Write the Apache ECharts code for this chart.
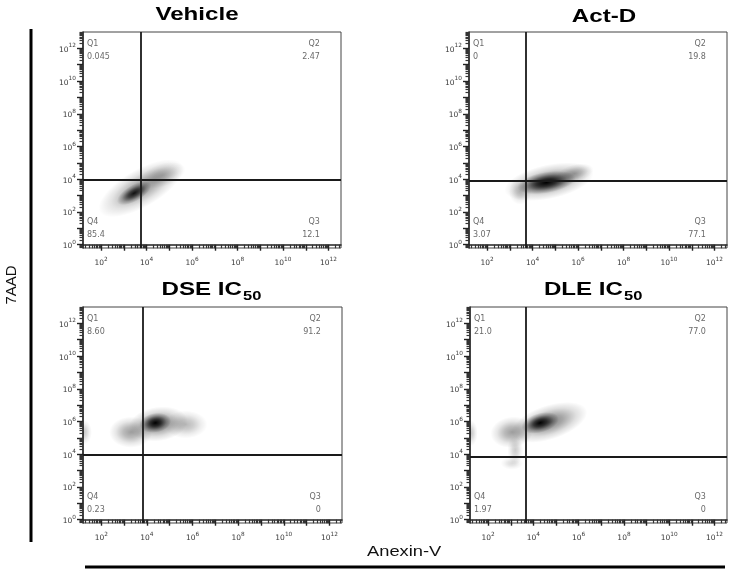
<!DOCTYPE html>
<html>
<head>
<meta charset="utf-8">
<title>Annexin-V / 7AAD</title>
<script src="https://cdn.jsdelivr.net/npm/echarts@6/dist/echarts.min.js"></script>
<style>
  html, body { margin: 0; padding: 0; background: #fff; }
  #chart { width: 731px; height: 571px; }
</style>
</head>
<body>
<div id="chart"></div>
<script>
// panel titles + quadrant percentages, as printed
const panelNames = ['Vehicle', 'Act-D', 'DSE IC', 'DLE IC'];
const panelSubs = ['', '', '50', '50'];
const q1Values = ['0.045', '0', '8.60', '21.0'];
const q2Values = ['2.47', '19.8', '91.2', '77.0'];
const q3Values = ['12.1', '77.1', '0', '0'];
const q4Values = ['85.4', '3.07', '0.23', '1.97'];

// quadrant gates (log10 units)
const gateX = [3.72, 3.71, 3.8, 3.67];
const gateY = [3.96, 3.9, 3.95, 3.85];

// tick label exponents
const xLabelExp = [2, 4, 6, 8, 10, 12];
const yLabelExp = [0, 2, 4, 6, 8, 10, 12];

// density clouds: [log10 Anexin-V, log10 7AAD, spread x, spread y (decades), tilt deg, density]
const vehicleCells = [
    [3.75, 3.45, 2.1, 1.15, 30, 0.42],
    [4.7, 4.25, 1.05, 0.7, 18, 0.25],
    [3.72, -0.2, 0.55, 0.35, 0, 0.13],
    [3.45, 3.15, 0.85, 0.5, 30, 0.9]
];
const actDCells = [
    [4.72, 3.85, 2.0, 1.05, 12, 0.5],
    [5.85, 4.35, 0.85, 0.55, 15, 0.3],
    [3.45, 3.25, 0.5, 0.8, 0, 0.22],
    [4.94, -0.14, 0.55, 0.3, 0, 0.12],
    [4.6, 3.8, 1.3, 0.65, 10, 1.0]
];
const dseCells = [
    [4.5, 5.85, 1.3, 1.05, 8, 0.5],
    [3.3, 5.35, 0.95, 0.95, 0, 0.38],
    [5.7, 5.82, 0.95, 0.85, 0, 0.28],
    [1.24, 5.35, 0.35, 0.75, 0, 0.22],
    [4.37, 5.92, 0.7, 0.6, 10, 1.0]
];
const dleCells = [
    [4.7, 5.95, 1.75, 1.05, 18, 0.5],
    [3.05, 5.35, 0.95, 0.95, 8, 0.38],
    [3.2, 4.25, 0.35, 0.9, 0, 0.2],
    [3.05, 3.45, 0.5, 0.4, 0, 0.14],
    [1.24, 5.29, 0.3, 0.8, 0, 0.22],
    [4.3, 5.92, 0.85, 0.6, 16, 1.0]
];
const panelCells = [vehicleCells, actDCells, dseCells, dleCells];

const X_MIN = 1.2, X_MAX = 12.55, Y_MIN = -0.2, Y_MAX = 13;

// log style ticks: decades + 2..9 in between
function decades(lo, hi) {
    const out = [];
    for (let n = Math.ceil(lo); n <= hi; n++) out.push(n);
    return out;
}
function minors(lo, hi) {
    const out = [];
    for (let n = Math.floor(lo) - 1; n <= hi; n++) {
        for (let k = 2; k <= 9; k++) {
            const v = n + Math.log10(k);
            if (v > lo && v < hi) out.push(v);
        }
    }
    return out;
}

const grids = [
    {left: 83, top: 32, width: 258, height: 216},
    {left: 469, top: 32, width: 258, height: 216},
    {left: 83, top: 307, width: 259, height: 216},
    {left: 470, top: 307, width: 257, height: 216}
];

const FONT_SMALL = 'DejaVu Sans';
const expRich = {
    b: {fontSize: 7.5, fontFamily: FONT_SMALL, color: '#3a3a3a', lineHeight: 11, verticalAlign: 'bottom'},
    s: {fontSize: 5.8, fontFamily: FONT_SMALL, color: '#3a3a3a', lineHeight: 11, verticalAlign: 'top'}
};
function expLabel(v) {
    return '{b|10}{s|' + Math.round(v) + '}';
}

const xAxes = [], yAxes = [], series = [];
grids.forEach(function(g, i) {
    g.show = true;
    g.borderColor = '#444';
    g.borderWidth = 1;
    xAxes.push({
        type: 'value', gridIndex: i, position: 'bottom', min: X_MIN, max: X_MAX,
        axisLine: {show: true, lineStyle: {color: '#222', width: 1.5}},
        splitLine: {show: false},
        axisTick: {show: true, customValues: decades(X_MIN, X_MAX), length: 6, lineStyle: {color: '#222', width: 1.4}},
        axisLabel: {customValues: xLabelExp, formatter: expLabel, rich: expRich, margin: 8}
    });
    yAxes.push({
        type: 'value', gridIndex: i, position: 'left', min: Y_MIN, max: Y_MAX,
        axisLine: {show: true, lineStyle: {color: '#222', width: 1.5}},
        splitLine: {show: false},
        axisTick: {show: true, customValues: decades(Y_MIN, Y_MAX - 0.5), length: 6, lineStyle: {color: '#222', width: 1.4}},
        axisLabel: {customValues: yLabelExp, formatter: expLabel, rich: expRich, margin: 7}
    });
});
// second set of axes only for the short minor ticks
grids.forEach(function(g, i) {
    xAxes.push({
        type: 'value', gridIndex: i, position: 'bottom', min: X_MIN, max: X_MAX,
        axisLine: {show: false}, splitLine: {show: false}, axisLabel: {show: false},
        axisTick: {show: true, customValues: minors(X_MIN, X_MAX), length: 3.5, lineStyle: {color: '#333', width: 1.2}}
    });
    yAxes.push({
        type: 'value', gridIndex: i, position: 'left', min: Y_MIN, max: Y_MAX,
        axisLine: {show: false}, splitLine: {show: false}, axisLabel: {show: false},
        axisTick: {show: true, customValues: minors(Y_MIN, Y_MAX), length: 3.5, lineStyle: {color: '#333', width: 1.2}}
    });
});

function cloud(params, api) {
    const c = api.coord([api.value(0), api.value(1)]);
    const s = api.size([api.value(2), api.value(3)]);
    const d = api.value(5);
    const ry = Math.max(s[1], 1);
    return {
        type: 'group',
        x: c[0], y: c[1],
        rotation: api.value(4) * Math.PI / 180,
        scaleX: s[0] / ry,
        children: [{
            type: 'circle',
            shape: {cx: 0, cy: 0, r: ry},
            style: {
                fill: {
                    type: 'radial', x: 0.5, y: 0.5, r: 0.5,
                    colorStops: [
                        {offset: 0, color: 'rgba(0,0,0,' + d + ')'},
                        {offset: 0.35, color: 'rgba(0,0,0,' + (d * 0.7) + ')'},
                        {offset: 0.7, color: 'rgba(0,0,0,' + (d * 0.25) + ')'},
                        {offset: 1, color: 'rgba(0,0,0,0)'}
                    ]
                }
            }
        }]
    };
}

const qLabel = {
    show: true, fontSize: 8, fontFamily: 'DejaVu Sans', color: '#444', lineHeight: 13
};

panelCells.forEach(function(cells, i) {
    series.push({
        type: 'custom', xAxisIndex: i, yAxisIndex: i, clip: true, z: 2,
        silent: true, renderItem: cloud, data: cells
    });
    series.push({
        type: 'scatter', xAxisIndex: i, yAxisIndex: i, z: 3, silent: true,
        symbolSize: 0.1, itemStyle: {color: 'transparent'},
        data: [
            {value: [X_MIN, Y_MAX], label: Object.assign({}, qLabel, {position: [4, 5], align: 'left', verticalAlign: 'top', formatter: 'Q1\n' + q1Values[i]})},
            {value: [X_MAX, Y_MAX], label: Object.assign({}, qLabel, {position: [-21, 5], align: 'right', verticalAlign: 'top', formatter: 'Q2\n' + q2Values[i]})},
            {value: [X_MAX, Y_MIN], label: Object.assign({}, qLabel, {position: [-21, -7], align: 'right', verticalAlign: 'bottom', formatter: 'Q3\n' + q3Values[i]})},
            {value: [X_MIN, Y_MIN], label: Object.assign({}, qLabel, {position: [4, -7], align: 'left', verticalAlign: 'bottom', formatter: 'Q4\n' + q4Values[i]})}
        ],
        markLine: {
            silent: true, symbol: ['none', 'none'], animation: false,
            label: {show: false},
            lineStyle: {color: '#1a1a1a', width: 1.8, type: 'solid'},
            data: [{xAxis: gateX[i]}, {yAxis: gateY[i]}]
        }
    });
});

// titles (figure is stretched horizontally, hence scaleX)
const titlePos = [[197, 15], [604, 17], [242, 290], [623, 290]];
const graphics = [];
panelNames.forEach(function(name, i) {
    const p = titlePos[i];
    const sub = panelSubs[i];
    graphics.push({
        type: 'text', x: p[0], y: p[1], scaleX: 1.27,
        style: {
            text: name, font: 'bold 19px "Liberation Sans", Arial, sans-serif', fill: '#000',
            textAlign: sub ? 'right' : 'center', textVerticalAlign: 'middle'
        }
    });
    if (sub) {
        graphics.push({
            type: 'text', x: p[0] + 1, y: p[1] + 6, scaleX: 1.27,
            style: {
                text: sub, font: 'bold 13px "Liberation Sans", Arial, sans-serif', fill: '#000',
                textAlign: 'left', textVerticalAlign: 'middle'
            }
        });
    }
});
graphics.push(
    {type: 'line', shape: {x1: 31, y1: 29, x2: 31, y2: 542}, style: {stroke: '#000', lineWidth: 3}},
    {type: 'line', shape: {x1: 85, y1: 567, x2: 725, y2: 567}, style: {stroke: '#000', lineWidth: 3}},
    {
        type: 'text', x: 12, y: 285, rotation: Math.PI / 2,
        style: {text: '7AAD', font: '15px "Liberation Sans", Arial, sans-serif', fill: '#111', textAlign: 'center', textVerticalAlign: 'middle'}
    },
    {
        type: 'text', x: 367, y: 552, scaleX: 1.22,
        style: {text: 'Anexin-V', font: '15px "Liberation Sans", Arial, sans-serif', fill: '#111', textAlign: 'left', textVerticalAlign: 'middle'}
    }
);

const chart = echarts.init(document.getElementById('chart'));
chart.setOption({
    animation: false,
    backgroundColor: '#fff',
    grid: grids,
    xAxis: xAxes,
    yAxis: yAxes,
    series: series,
    graphic: graphics
});
</script>
</body>
</html>
